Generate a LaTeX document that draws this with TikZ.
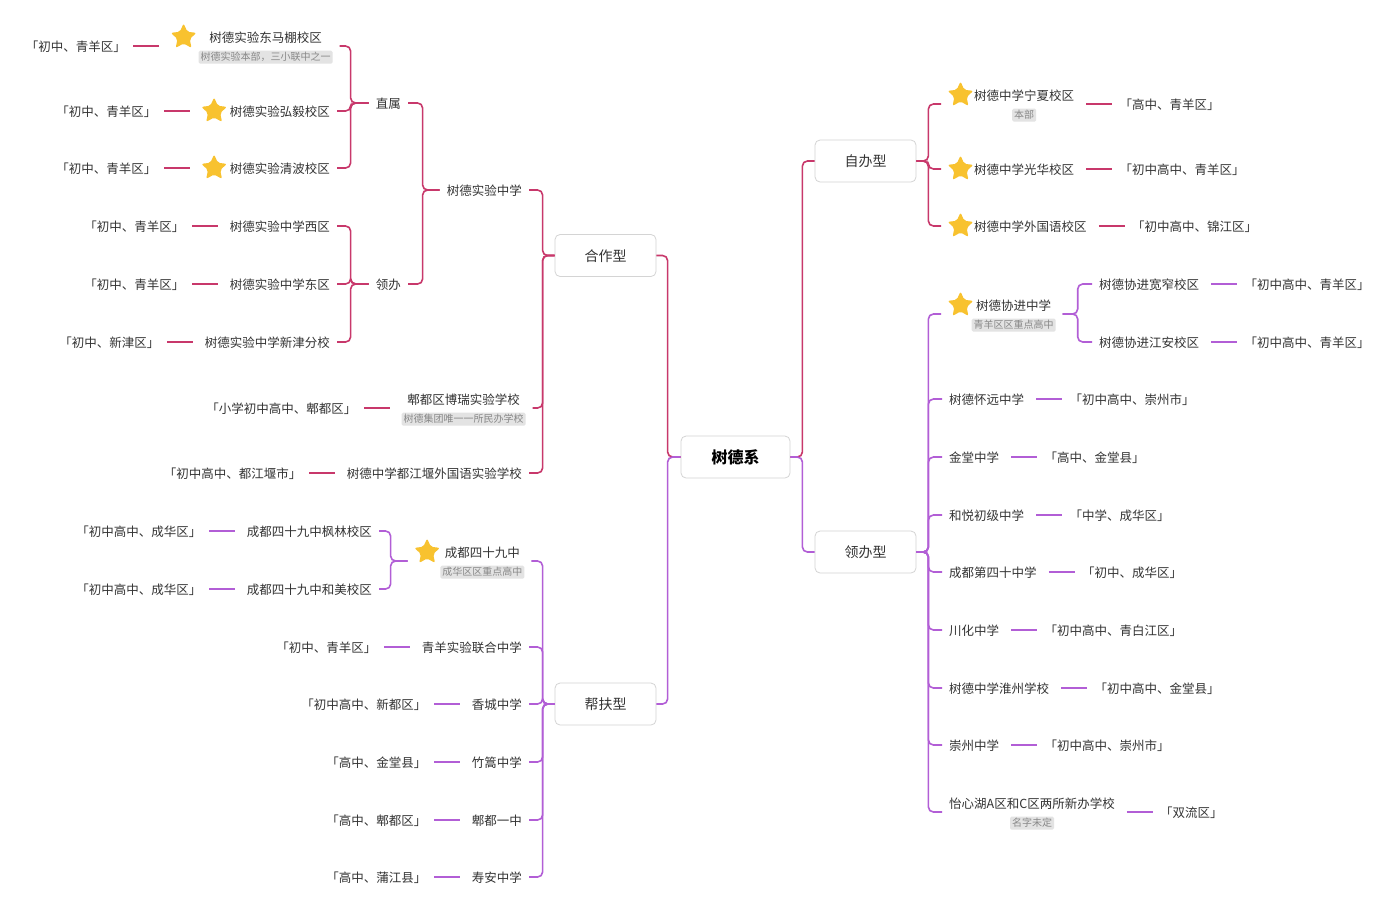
\documentclass[tikz,border=0pt]{standalone}
\usepackage{fontspec}
\setmainfont{Noto Sans CJK SC}
\usetikzlibrary{positioning,shapes.geometric,fit}
\definecolor{sdred}{HTML}{C8386B}
\definecolor{sdpurple}{HTML}{B25ED6}
\definecolor{sdgold}{HTML}{F8C22F}
\definecolor{sdink}{HTML}{333333}
\definecolor{sdframe}{HTML}{D4D4D4}
\definecolor{sdnote}{HTML}{E3E3E3}
\definecolor{sdnotetext}{HTML}{888888}

\begin{document}
\begin{tikzpicture}[x=1pt,y=-1pt,node distance=36pt,
  root/.style={draw=sdframe,line width=.8pt,rounded corners=5pt,fill=white,minimum width=109pt,minimum height=42pt,text height=13.5pt,text depth=.5pt,font=\fontsize{16}{19}\selectfont\bfseries,text=black},
  branch/.style={draw=sdframe,line width=.8pt,rounded corners=5pt,fill=white,minimum width=101pt,minimum height=42pt,text height=12pt,text depth=1pt,font=\fontsize{14}{17}\selectfont,text=sdink},
  leaf/.style={inner xsep=7pt,inner ysep=2pt,text height=11.5pt,text depth=1.5pt,font=\fontsize{12.5}{15}\selectfont,text=sdink},
  tag/.style={leaf,inner xsep=2pt},
  note/.style={fill=sdnote,text=sdnotetext,font=\fontsize{10}{12}\selectfont,inner xsep=2pt,inner ysep=1.5pt,text height=8.5pt,text depth=1.5pt,rounded corners=1.5pt,outer xsep=7pt,outer ysep=0pt},
  staricon/.style={star,star points=5,star point ratio=2.1,fill=sdgold,minimum size=27pt,inner sep=0pt,rounded corners=2pt},
  grp/.style={inner sep=0pt,outer sep=0pt},
  redtree/.style={draw=sdred,line width=1.6pt,rounded corners=5pt},
  purpletree/.style={draw=sdpurple,line width=1.6pt,rounded corners=5pt},
  reddash/.style={draw=sdred,line width=1.6pt,shorten <=5pt,shorten >=5pt},
  purpledash/.style={draw=sdpurple,line width=1.6pt,shorten <=5pt,shorten >=5pt}]
\fill[white] (0,0) rectangle (1400,914);
\useasboundingbox (0,0) rectangle (1400,914);

% centre and the four kinds
\node[root] (sdx) at (735.5,457) {树德系};
\node[branch] (hzx) at (605.5,255.5) {合作型};
\node[branch] (bfx) at (605.5,704) {帮扶型};
\node[branch] (zbx) at (865.5,161) {自办型};
\node[branch] (lbx) at (865.5,552) {领办型};

% 合作型
\node[leaf,anchor=east] (sysz) at (529,190) {树德实验中学};
\node[leaf,anchor=east] (zs) at (408,103) {直属};
\node[leaf,anchor=east] (lb) at (408,284) {领办};

\node[leaf,anchor=east] (dmp) at (329,37) {\hspace*{38pt}树德实验东马棚校区};
\node[staricon] (dmps) at ([xshift=19.5pt]dmp.west) {};
\node[note,below=5pt of dmp,xshift=19pt] (dmpn) {树德实验本部，三小联中之一};
\node[grp,fit=(dmp)(dmpn)] (dmpg) {};
\node[tag,left=of dmpg] (dmpt) {「初中、青羊区」};

\node[leaf,anchor=east] (hy) at (337,111) {\hspace*{28pt}树德实验弘毅校区};
\node[staricon] (hys) at ([xshift=19.5pt]hy.west) {};
\node[tag,left=of hy] (hyt) {「初中、青羊区」};

\node[leaf,anchor=east] (qb) at (337,168) {\hspace*{28pt}树德实验清波校区};
\node[staricon] (qbs) at ([xshift=19.5pt]qb.west) {};
\node[tag,left=of qb] (qbt) {「初中、青羊区」};

\node[leaf,anchor=east] (xq) at (337,226) {树德实验中学西区};
\node[tag,left=of xq] (xqt) {「初中、青羊区」};
\node[leaf,anchor=east] (dq) at (337,284) {树德实验中学东区};
\node[tag,left=of dq] (dqt) {「初中、青羊区」};
\node[leaf,anchor=east] (xjfx) at (337,342) {树德实验中学新津分校};
\node[tag,left=of xjfx] (xjfxt) {「初中、新津区」};

\node[leaf,anchor=east] (br) at (527,399) {郫都区博瑞实验学校};
\node[note,below=5pt of br] (brn) {树德集团唯一一所民办学校};
\node[grp,fit=(br)(brn)] (brg) {};
\node[tag,left=of brg] (brt) {「小学初中高中、郫都区」};

\node[leaf,anchor=east] (djy) at (529,473) {树德中学都江堰外国语实验学校};
\node[tag,left=of djy] (djyt) {「初中高中、都江堰市」};

% 帮扶型
\node[leaf,anchor=east] (sj) at (527,552) {\hspace*{30pt}成都四十九中};
\node[staricon] (sjs) at ([xshift=19.5pt]sj.west) {};
\node[note,below=5pt of sj,xshift=15pt] (sjn) {成华区区重点高中};
\node[grp,fit=(sj)(sjn)] (sjg) {};

\node[leaf,anchor=east] (fl) at (379,531) {成都四十九中枫林校区};
\node[tag,left=of fl] (flt) {「初中高中、成华区」};
\node[leaf,anchor=east] (hm) at (379,589) {成都四十九中和美校区};
\node[tag,left=of hm] (hmt) {「初中高中、成华区」};

\node[leaf,anchor=east] (qy) at (529,647) {青羊实验联合中学};
\node[tag,left=of qy] (qyt) {「初中、青羊区」};
\node[leaf,anchor=east] (xc) at (529,704) {香城中学};
\node[tag,left=of xc] (xct) {「初中高中、新都区」};
\node[leaf,anchor=east] (zg) at (529,762) {竹篙中学};
\node[tag,left=of zg] (zgt) {「高中、金堂县」};
\node[leaf,anchor=east] (pd) at (529,820) {郫都一中};
\node[tag,left=of pd] (pdt) {「高中、郫都区」};
\node[leaf,anchor=east] (sa) at (529,877) {寿安中学};
\node[tag,left=of sa] (sat) {「高中、蒲江县」};

% 自办型
\node[leaf,anchor=west] (nx) at (941,95) {\hspace*{26pt}树德中学宁夏校区};
\node[staricon] (nxs) at ([xshift=19.5pt]nx.west) {};
\node[note,below=5pt of nx,xshift=13pt] (nxn) {本部};
\node[grp,fit=(nx)(nxn)] (nxg) {};
\node[tag,right=of nxg] (nxt) {「高中、青羊区」};

\node[leaf,anchor=west] (gh) at (941,169) {\hspace*{26pt}树德中学光华校区};
\node[staricon] (ghs) at ([xshift=19.5pt]gh.west) {};
\node[tag,right=of gh] (ght) {「初中高中、青羊区」};

\node[leaf,anchor=west] (wgy) at (941,226) {\hspace*{26pt}树德中学外国语校区};
\node[staricon] (wgys) at ([xshift=19.5pt]wgy.west) {};
\node[tag,right=of wgy] (wgyt) {「初中高中、锦江区」};

% 领办型
\node[leaf,anchor=west] (xjzx) at (941,305) {\hspace*{28pt}树德协进中学};
\node[staricon] (xjzxs) at ([xshift=19.5pt]xjzx.west) {};
\node[note,below=5pt of xjzx,xshift=14pt] (xjzxn) {青羊区区重点高中};
\node[grp,fit=(xjzx)(xjzxn)] (xjzxg) {};

\node[leaf,anchor=west] (kz) at (1092,284) {树德协进宽窄校区};
\node[tag,right=of kz] (kzt) {「初中高中、青羊区」};
\node[leaf,anchor=west] (ja) at (1092,342) {树德协进江安校区};
\node[tag,right=of ja] (jat) {「初中高中、青羊区」};

\node[leaf,anchor=west] (hy2) at (942,399) {树德怀远中学};
\node[tag,right=of hy2] (hy2t) {「初中高中、崇州市」};
\node[leaf,anchor=west] (jt) at (942,457) {金堂中学};
\node[tag,right=of jt] (jtt) {「高中、金堂县」};
\node[leaf,anchor=west] (hyc) at (942,515) {和悦初级中学};
\node[tag,right=of hyc] (hyct) {「中学、成华区」};
\node[leaf,anchor=west] (ss) at (942,572) {成都第四十中学};
\node[tag,right=of ss] (sst) {「初中、成华区」};
\node[leaf,anchor=west] (ch) at (942,630) {川化中学};
\node[tag,right=of ch] (cht) {「初中高中、青白江区」};
\node[leaf,anchor=west] (hz) at (942,688) {树德中学淮州学校};
\node[tag,right=of hz] (hzt) {「初中高中、金堂县」};
\node[leaf,anchor=west] (cz) at (942,745) {崇州中学};
\node[tag,right=of cz] (czt) {「初中高中、崇州市」};

\node[leaf,anchor=west] (yxh) at (942,803) {怡心湖A区和C区两所新办学校};
\node[note,below=5pt of yxh] (yxhn) {名字未定};
\node[grp,fit=(yxh)(yxhn)] (yxhg) {};
\node[tag,right=of yxhg] (yxht) {「双流区」};

% tree lines
\draw[redtree] (sdx.west) -- ++(-13,0) |- (hzx.east);
\draw[redtree] (sdx.east) -- ++(12,0) |- (zbx.west);
\draw[purpletree] (sdx.west) -- ++(-13,0) |- (bfx.east);
\draw[purpletree] (sdx.east) -- ++(12,0) |- (lbx.west);

\draw[redtree] (hzx.west) -- ++(-12,0) |- (sysz.east);
\draw[redtree] (hzx.west) -- ++(-12,0) |- (brg.east);
\draw[redtree] (hzx.west) -- ++(-12,0) |- (djy.east);
\draw[redtree] (sysz.west) -- ++(-17,0) |- (zs.east);
\draw[redtree] (sysz.west) -- ++(-17,0) |- (lb.east);
\draw[redtree] (zs.west) -- ++(-18,0) |- (dmpg.east);
\draw[redtree] (zs.west) -- ++(-18,0) |- (hy.east);
\draw[redtree] (zs.west) -- ++(-18,0) |- (qb.east);
\draw[redtree] (lb.west) -- ++(-18,0) |- (xq.east);
\draw[redtree] (lb.west) -- ++(-18,0) |- (dq.east);
\draw[redtree] (lb.west) -- ++(-18,0) |- (xjfx.east);

\draw[purpletree] (bfx.west) -- ++(-12,0) |- (sjg.east);
\draw[purpletree] (bfx.west) -- ++(-12,0) |- (qy.east);
\draw[purpletree] (bfx.west) -- ++(-12,0) |- (xc.east);
\draw[purpletree] (bfx.west) -- ++(-12,0) |- (zg.east);
\draw[purpletree] (bfx.west) -- ++(-12,0) |- (pd.east);
\draw[purpletree] (bfx.west) -- ++(-12,0) |- (sa.east);
\draw[purpletree] (sjg.west) -- ++(-17,0) |- (fl.east);
\draw[purpletree] (sjg.west) -- ++(-17,0) |- (hm.east);

\draw[redtree] (zbx.east) -- ++(12,0) |- (nxg.west);
\draw[redtree] (zbx.east) -- ++(12,0) |- (gh.west);
\draw[redtree] (zbx.east) -- ++(12,0) |- (wgy.west);

\draw[purpletree] (lbx.east) -- ++(12,0) |- (xjzxg.west);
\draw[purpletree] (lbx.east) -- ++(12,0) |- (hy2.west);
\draw[purpletree] (lbx.east) -- ++(12,0) |- (jt.west);
\draw[purpletree] (lbx.east) -- ++(12,0) |- (hyc.west);
\draw[purpletree] (lbx.east) -- ++(12,0) |- (ss.west);
\draw[purpletree] (lbx.east) -- ++(12,0) |- (ch.west);
\draw[purpletree] (lbx.east) -- ++(12,0) |- (hz.west);
\draw[purpletree] (lbx.east) -- ++(12,0) |- (cz.west);
\draw[purpletree] (lbx.east) -- ++(12,0) |- (yxhg.west);
\draw[purpletree] (xjzxg.east) -- ++(15,0) |- (kz.west);
\draw[purpletree] (xjzxg.east) -- ++(15,0) |- (ja.west);

% school -- area
\draw[reddash] (dmpg.west) -- (dmpt.east);
\draw[reddash] (hy.west) -- (hyt.east);
\draw[reddash] (qb.west) -- (qbt.east);
\draw[reddash] (xq.west) -- (xqt.east);
\draw[reddash] (dq.west) -- (dqt.east);
\draw[reddash] (xjfx.west) -- (xjfxt.east);
\draw[reddash] (brg.west) -- (brt.east);
\draw[reddash] (djy.west) -- (djyt.east);
\draw[purpledash] (fl.west) -- (flt.east);
\draw[purpledash] (hm.west) -- (hmt.east);
\draw[purpledash] (qy.west) -- (qyt.east);
\draw[purpledash] (xc.west) -- (xct.east);
\draw[purpledash] (zg.west) -- (zgt.east);
\draw[purpledash] (pd.west) -- (pdt.east);
\draw[purpledash] (sa.west) -- (sat.east);
\draw[reddash] (nxg.east) -- (nxt.west);
\draw[reddash] (gh.east) -- (ght.west);
\draw[reddash] (wgy.east) -- (wgyt.west);
\draw[purpledash] (kz.east) -- (kzt.west);
\draw[purpledash] (ja.east) -- (jat.west);
\draw[purpledash] (hy2.east) -- (hy2t.west);
\draw[purpledash] (jt.east) -- (jtt.west);
\draw[purpledash] (hyc.east) -- (hyct.west);
\draw[purpledash] (ss.east) -- (sst.west);
\draw[purpledash] (ch.east) -- (cht.west);
\draw[purpledash] (hz.east) -- (hzt.west);
\draw[purpledash] (cz.east) -- (czt.west);
\draw[purpledash] (yxhg.east) -- (yxht.west);
\end{tikzpicture}
\end{document}
